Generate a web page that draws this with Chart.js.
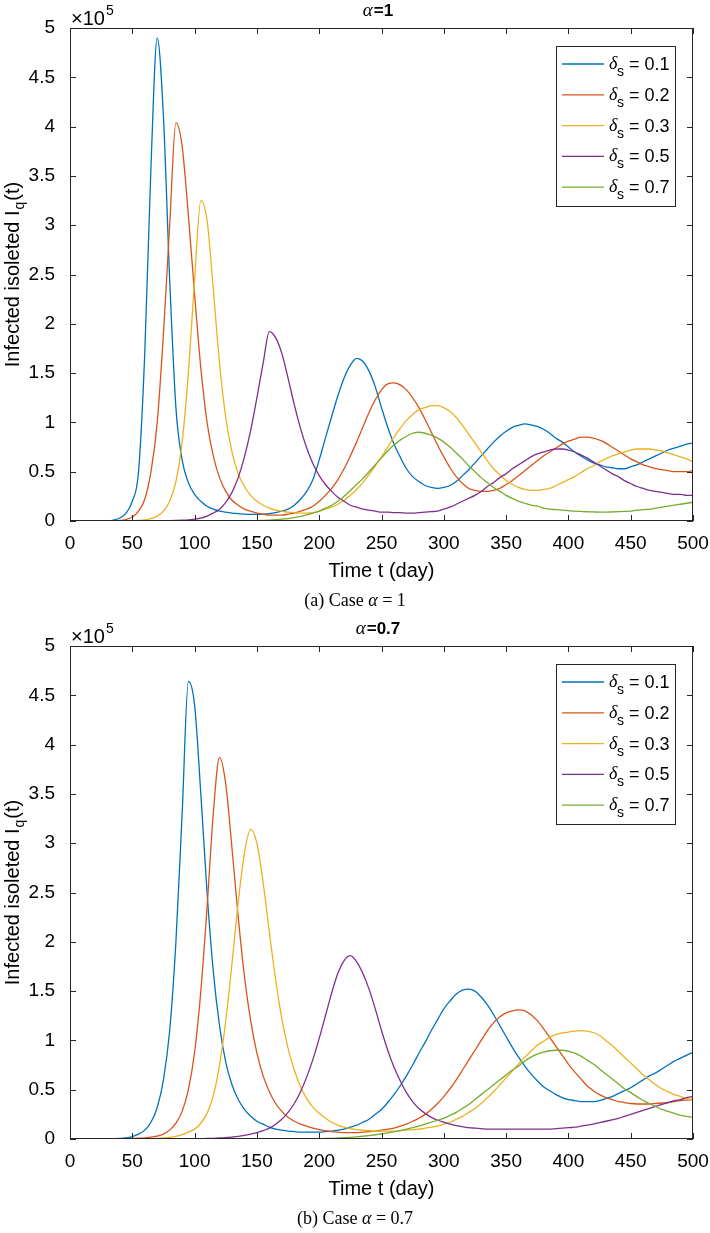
<!DOCTYPE html>
<html>
<head>
<meta charset="utf-8">
<title>Infected isoleted I_q(t)</title>
<script src="https://cdn.jsdelivr.net/npm/chart.js"></script>
<style>
  body { margin: 0; background: #fff; }
  .panel { position: absolute; left: 0; }
</style>
</head>
<body>
<canvas id="chartA" class="panel" width="710" height="618" style="top:0"></canvas>
<canvas id="chartB" class="panel" width="710" height="615" style="top:618px"></canvas>
<script>
// Giorni (passo 5) e valori in unità di 1e5
const days = Array.from({ length: 101 }, (_, i) => i * 5);
const deltaLabels = ['0.1', '0.2', '0.3', '0.5', '0.7'];
const lineColors = ['#0072BD', '#D95319', '#EDB120', '#7E2F8E', '#77AC30'];

// Caso alpha = 1
const blueA = [
  0, 0, 0, 0, 0, 0, 0.002, 0.01, 0.03, 0.08,
  0.2, 0.5, 1.7, 3.6, 4.9, 4.1, 2.45, 1.15, 0.62, 0.39,
  0.27, 0.2, 0.15, 0.12, 0.1, 0.09, 0.08, 0.075, 0.07, 0.068,
  0.068, 0.07, 0.075, 0.085, 0.1, 0.12, 0.16, 0.22, 0.3, 0.42,
  0.62, 0.84, 1.06, 1.27, 1.45, 1.58, 1.65, 1.62, 1.52, 1.36,
  1.15, 0.95, 0.78, 0.65, 0.53, 0.45, 0.4, 0.36, 0.34, 0.33,
  0.34, 0.36, 0.4, 0.46, 0.52, 0.59, 0.66, 0.73, 0.8, 0.86,
  0.91, 0.95, 0.97, 0.985, 0.975, 0.96, 0.93, 0.89, 0.84, 0.8,
  0.75, 0.7, 0.66, 0.62, 0.59, 0.57, 0.55, 0.54, 0.53, 0.53,
  0.55, 0.57, 0.6, 0.63, 0.66, 0.69, 0.72, 0.74, 0.76, 0.78,
  0.79
];
const redA = [
  0, 0, 0, 0, 0, 0, 0, 0.002, 0.005, 0.015,
  0.04, 0.1, 0.22, 0.5, 1.0, 1.9, 3.0, 4.04, 3.8, 3.1,
  2.3, 1.55, 1.0, 0.66, 0.44, 0.3, 0.21, 0.16, 0.12, 0.1,
  0.08, 0.07, 0.06, 0.06, 0.06, 0.07, 0.08, 0.1, 0.12, 0.15,
  0.2, 0.26, 0.33, 0.42, 0.53, 0.66, 0.8, 0.95, 1.1, 1.23,
  1.33, 1.39, 1.4, 1.38, 1.33, 1.25, 1.15, 1.03, 0.9, 0.77,
  0.65, 0.54, 0.45, 0.38, 0.33, 0.31, 0.3, 0.3, 0.31, 0.33,
  0.37, 0.41, 0.46, 0.51, 0.56, 0.61, 0.66, 0.7, 0.74, 0.78,
  0.81, 0.83, 0.85, 0.85, 0.84, 0.82, 0.79, 0.75, 0.71, 0.67,
  0.63, 0.6, 0.57, 0.55, 0.53, 0.52, 0.51, 0.5, 0.5, 0.5,
  0.51
];
const yellowA = [
  0, 0, 0, 0, 0, 0, 0, 0, 0, 0.001,
  0.003, 0.006, 0.012, 0.025, 0.05, 0.1, 0.2, 0.4, 0.8, 1.5,
  2.45, 3.25, 3.05, 2.35, 1.6, 1.05, 0.7, 0.48, 0.35, 0.26,
  0.2, 0.16, 0.13, 0.11, 0.1, 0.09, 0.085, 0.08, 0.08, 0.085,
  0.1, 0.12, 0.14, 0.17, 0.21, 0.26, 0.32, 0.39, 0.47, 0.56,
  0.65, 0.75, 0.85, 0.94, 1.02, 1.08, 1.13, 1.15, 1.17, 1.17,
  1.15, 1.11, 1.05, 0.97, 0.88, 0.79, 0.7, 0.61, 0.53, 0.47,
  0.41, 0.37, 0.34, 0.32, 0.31, 0.31, 0.32, 0.33, 0.36, 0.39,
  0.42, 0.45, 0.49, 0.53, 0.56, 0.6, 0.63, 0.66, 0.68, 0.7,
  0.72, 0.73, 0.73, 0.73, 0.72, 0.71, 0.69, 0.67, 0.65, 0.63,
  0.6
];
const purpleA = [
  0, 0, 0, 0, 0, 0, 0, 0, 0, 0,
  0, 0, 0, 0, 0.001, 0.002, 0.003, 0.005, 0.008, 0.012,
  0.02, 0.03, 0.05, 0.08, 0.12, 0.19, 0.29, 0.44, 0.65, 0.92,
  1.25, 1.6, 1.92, 1.86, 1.7, 1.45, 1.18, 0.94, 0.74, 0.58,
  0.46, 0.37, 0.3, 0.24, 0.2, 0.16, 0.14, 0.12, 0.11, 0.1,
  0.09, 0.09, 0.085, 0.085, 0.08, 0.08, 0.085, 0.09, 0.095, 0.1,
  0.12, 0.14, 0.17, 0.2, 0.23, 0.26, 0.3, 0.35, 0.39, 0.44,
  0.48, 0.53, 0.57, 0.61, 0.65, 0.68, 0.7, 0.72, 0.73, 0.73,
  0.72, 0.7, 0.67, 0.64, 0.6, 0.56, 0.52, 0.48, 0.45, 0.41,
  0.38, 0.35, 0.33, 0.31, 0.3, 0.29, 0.28, 0.27, 0.27, 0.26,
  0.26
];
const greenA = [
  0, 0, 0, 0, 0, 0, 0, 0, 0, 0,
  0, 0, 0, 0, 0, 0, 0, 0, 0, 0,
  0, 0, 0, 0.001, 0.001, 0.001, 0.002, 0.002, 0.003, 0.003,
  0.004, 0.006, 0.009, 0.013, 0.018, 0.025, 0.035, 0.047, 0.062, 0.08,
  0.1, 0.13, 0.16, 0.2, 0.25, 0.31, 0.37, 0.43, 0.5, 0.57,
  0.64, 0.71, 0.77, 0.82, 0.86, 0.89, 0.9, 0.89, 0.87, 0.84,
  0.8, 0.75, 0.69, 0.63, 0.56, 0.5, 0.44, 0.39, 0.34, 0.3,
  0.26, 0.23, 0.2, 0.18, 0.16, 0.15, 0.13, 0.12, 0.115, 0.11,
  0.105, 0.1, 0.097, 0.094, 0.092, 0.09, 0.09, 0.092, 0.095, 0.098,
  0.1, 0.11, 0.115, 0.12, 0.13, 0.14, 0.15, 0.16, 0.17, 0.18,
  0.19
];

// Caso alpha = 0.7
const blueB = [
  0, 0, 0, 0, 0, 0, 0.001, 0.003, 0.006, 0.012,
  0.025, 0.05, 0.09, 0.17, 0.32, 0.6, 1.1, 2.0, 3.3, 4.64,
  4.4, 3.5, 2.5, 1.7, 1.15, 0.78, 0.55, 0.4, 0.3, 0.23,
  0.18, 0.15, 0.12, 0.1, 0.09, 0.08, 0.075, 0.07, 0.07, 0.07,
  0.07, 0.075, 0.08, 0.09, 0.1, 0.12, 0.14, 0.17, 0.2, 0.25,
  0.3, 0.37, 0.45, 0.54, 0.64, 0.75, 0.87, 0.98, 1.1, 1.21,
  1.32, 1.4, 1.47, 1.51, 1.52, 1.5, 1.44, 1.36, 1.26, 1.15,
  1.04, 0.93, 0.83, 0.74, 0.66, 0.59, 0.53, 0.49, 0.45, 0.42,
  0.4, 0.39, 0.38, 0.38, 0.38, 0.39, 0.41, 0.43, 0.46, 0.49,
  0.52, 0.56, 0.6, 0.64, 0.67, 0.71, 0.75, 0.79, 0.82, 0.85,
  0.88
];
const redB = [
  0, 0, 0, 0, 0, 0, 0, 0, 0, 0,
  0.005, 0.008, 0.012, 0.02, 0.03, 0.05, 0.09, 0.16, 0.28, 0.5,
  0.88, 1.5, 2.35, 3.3, 3.87, 3.6, 2.95, 2.25, 1.65, 1.2,
  0.87, 0.64, 0.48, 0.36, 0.28, 0.22, 0.18, 0.15, 0.13, 0.11,
  0.095, 0.085, 0.075, 0.07, 0.065, 0.065, 0.065, 0.07, 0.075, 0.08,
  0.09, 0.1, 0.11, 0.13, 0.15, 0.18, 0.21, 0.25, 0.3, 0.36,
  0.43, 0.51, 0.6, 0.7, 0.8, 0.9, 1.0, 1.1, 1.18, 1.24,
  1.28, 1.3, 1.31, 1.3, 1.26, 1.2, 1.12, 1.03, 0.94, 0.85,
  0.76, 0.68, 0.61, 0.54, 0.49, 0.45, 0.42, 0.4, 0.38, 0.37,
  0.36, 0.355, 0.355, 0.355, 0.36, 0.365, 0.37, 0.38, 0.39, 0.395,
  0.4
];
const yellowB = [
  0, 0, 0, 0, 0, 0, 0, 0, 0, 0,
  0, 0.001, 0.002, 0.004, 0.006, 0.01, 0.016, 0.027, 0.045, 0.07,
  0.1, 0.16, 0.26, 0.44, 0.75, 1.2, 1.78, 2.4, 2.9, 3.14,
  3.0, 2.6, 2.1, 1.62, 1.22, 0.92, 0.7, 0.53, 0.41, 0.32,
  0.26, 0.21, 0.17, 0.14, 0.12, 0.105, 0.095, 0.09, 0.085, 0.08,
  0.08, 0.08, 0.08, 0.085, 0.09, 0.095, 0.1, 0.11, 0.12, 0.13,
  0.15, 0.17, 0.2, 0.23, 0.27, 0.31, 0.36, 0.42, 0.48, 0.55,
  0.62, 0.69, 0.76, 0.83, 0.89, 0.95, 0.99, 1.03, 1.06, 1.075,
  1.085, 1.095, 1.1, 1.095, 1.08, 1.05, 1.0, 0.95, 0.89, 0.83,
  0.77, 0.71, 0.65, 0.6, 0.55, 0.51, 0.48, 0.45, 0.43, 0.41,
  0.4
];
const purpleB = [
  0, 0, 0, 0, 0, 0, 0, 0, 0, 0,
  0, 0, 0, 0, 0, 0, 0, 0, 0, 0,
  0.002, 0.003, 0.005, 0.007, 0.01, 0.014, 0.02, 0.027, 0.037, 0.05,
  0.065, 0.085, 0.11, 0.15, 0.2, 0.27, 0.36, 0.48, 0.63, 0.81,
  1.02, 1.25, 1.48, 1.68, 1.81, 1.86, 1.8, 1.68, 1.52, 1.32,
  1.1, 0.9, 0.73, 0.59, 0.47, 0.38, 0.31, 0.26, 0.22, 0.19,
  0.17, 0.15, 0.135, 0.125, 0.115, 0.11, 0.105, 0.1, 0.1, 0.1,
  0.1, 0.1, 0.1, 0.1, 0.1, 0.1, 0.1, 0.1, 0.105, 0.11,
  0.115, 0.12, 0.13, 0.14, 0.15, 0.165, 0.18, 0.195, 0.21, 0.23,
  0.25, 0.27, 0.29, 0.31, 0.33, 0.35, 0.37, 0.39, 0.4, 0.42,
  0.43
];
const greenB = [
  0, 0, 0, 0, 0, 0, 0, 0, 0, 0,
  0, 0, 0, 0, 0, 0, 0, 0, 0, 0,
  0, 0, 0, 0, 0, 0, 0, 0, 0, 0,
  0, 0, 0, 0, 0, 0, 0, 0, 0, 0,
  0.003, 0.005, 0.007, 0.01, 0.013, 0.017, 0.022, 0.028, 0.035, 0.043,
  0.052, 0.062, 0.073, 0.085, 0.1, 0.115, 0.13, 0.15, 0.17, 0.19,
  0.21, 0.24, 0.27, 0.31, 0.35, 0.4, 0.45, 0.5, 0.55, 0.6,
  0.65, 0.7, 0.74, 0.79, 0.83, 0.86, 0.88, 0.895, 0.9, 0.9,
  0.89, 0.87, 0.84, 0.8, 0.76, 0.71, 0.66, 0.61, 0.56, 0.51,
  0.47, 0.43, 0.39, 0.36, 0.33, 0.3, 0.28, 0.26, 0.24, 0.23,
  0.22
];

const xTicksMax = 500;
const yTicksMax = 5;

const SANS = "'Liberation Sans', Arial, sans-serif";
const SERIF = "'Liberation Serif', 'Times New Roman', serif";
const AXIS = '#262626';

// Disegna le parti "stile MATLAB": riquadro, tacche interne, legenda, titoli
function matlabFrame(titleValue, captionLetter) {
  return {
    id: 'matlabFrame',
    afterDraw(chart) {
      const ctx = chart.ctx;
      const a = chart.chartArea;
      const xs = chart.scales.x, ys = chart.scales.y;
      ctx.save();

      // riquadro e tacche
      ctx.strokeStyle = AXIS;
      ctx.lineWidth = 1;
      ctx.strokeRect(Math.round(a.left) + 0.5, Math.round(a.top) + 0.5,
                     Math.round(a.right - a.left) - 1, Math.round(a.bottom - a.top) - 1);
      ctx.beginPath();
      xs.ticks.forEach(t => {
        const px = Math.round(xs.getPixelForValue(t.value)) + 0.5;
        ctx.moveTo(px, a.bottom); ctx.lineTo(px, a.bottom - 6);
        ctx.moveTo(px, a.top); ctx.lineTo(px, a.top + 6);
      });
      ys.ticks.forEach(t => {
        const py = Math.round(ys.getPixelForValue(t.value)) + 0.5;
        ctx.moveTo(a.left, py); ctx.lineTo(a.left + 6, py);
        ctx.moveTo(a.right, py); ctx.lineTo(a.right - 6, py);
      });
      ctx.stroke();

      ctx.fillStyle = '#000';
      ctx.textBaseline = 'alphabetic';

      // moltiplicatore x10^5
      ctx.textAlign = 'left';
      ctx.font = '20px ' + SANS;
      ctx.fillText('\u00d710', a.left + 1, a.top - 3);
      const w10 = ctx.measureText('\u00d710').width;
      ctx.font = '14px ' + SANS;
      ctx.fillText('5', a.left + 1 + w10 + 1, a.top - 13);

      // titolo: alpha = valore
      ctx.font = 'italic 19px ' + SERIF;
      const wa = ctx.measureText('\u03b1').width;
      ctx.font = 'bold 17px ' + SANS;
      const wv = ctx.measureText('=' + titleValue).width;
      const tx = (a.left + a.right) / 2 - 4 - (wa + wv) / 2;
      ctx.font = 'italic 19px ' + SERIF;
      ctx.fillText('\u03b1', tx, a.top - 12);
      ctx.font = 'bold 17px ' + SANS;
      ctx.fillText('=' + titleValue, tx + wa + 1, a.top - 12);

      // titolo asse x
      ctx.textAlign = 'center';
      ctx.font = '20px ' + SANS;
      ctx.fillText('Time t (day)', (a.left + a.right) / 2, a.bottom + 56);

      // titolo asse y (ruotato)
      ctx.save();
      ctx.translate(19, (a.top + a.bottom) / 2);
      ctx.rotate(-Math.PI / 2);
      ctx.textAlign = 'left';
      ctx.font = '20px ' + SANS;
      const p1 = 'Infected isoleted I', p3 = '(t)';
      const w1 = ctx.measureText(p1).width, w3 = ctx.measureText(p3).width;
      ctx.font = '14px ' + SANS;
      const w2 = ctx.measureText('q').width;
      let x0 = -(w1 + w2 + w3 + 2) / 2;
      ctx.font = '20px ' + SANS;
      ctx.fillText(p1, x0, 0);
      ctx.font = '14px ' + SANS;
      ctx.fillText('q', x0 + w1 + 1, 5);
      ctx.font = '20px ' + SANS;
      ctx.fillText(p3, x0 + w1 + w2 + 2, 0);
      ctx.restore();

      // legenda
      const lx = 556, ly = 46, lw = 119, lh = 160;
      ctx.fillStyle = '#fff';
      ctx.fillRect(lx, ly, lw, lh);
      ctx.strokeStyle = AXIS;
      ctx.strokeRect(lx + 0.5, ly + 0.5, lw, lh);
      deltaLabels.forEach((lab, i) => {
        const cy = ly + 18 + i * 30.8;
        ctx.strokeStyle = lineColors[i];
        ctx.lineWidth = 1.3;
        ctx.beginPath();
        ctx.moveTo(lx + 6, cy); ctx.lineTo(lx + 48, cy);
        ctx.stroke();
        ctx.fillStyle = '#000';
        ctx.textAlign = 'left';
        ctx.font = 'italic 18px ' + SERIF;
        ctx.fillText('\u03b4', lx + 53, cy + 5);
        ctx.font = '14px ' + SANS;
        ctx.fillText('s', lx + 61, cy + 12);
        ctx.font = '18px ' + SANS;
        ctx.fillText('= ' + lab, lx + 73, cy + 6);
      });

      // didascalia
      const cap1 = '(' + captionLetter + ') Case ', cap3 = ' = ' + titleValue;
      ctx.font = '18px ' + SERIF;
      const c1 = ctx.measureText(cap1).width, c3 = ctx.measureText(cap3).width;
      ctx.font = 'italic 18px ' + SERIF;
      const c2 = ctx.measureText('\u03b1').width;
      let cx = 355 - (c1 + c2 + c3) / 2;
      const cyCap = a.bottom + 85;
      ctx.fillStyle = '#000';
      ctx.font = '18px ' + SERIF;
      ctx.fillText(cap1, cx, cyCap);
      ctx.font = 'italic 18px ' + SERIF;
      ctx.fillText('\u03b1', cx + c1, cyCap);
      ctx.font = '18px ' + SERIF;
      ctx.fillText(cap3, cx + c1 + c2, cyCap);

      ctx.restore();
    }
  };
}

function makeChart(id, series, titleValue, captionLetter, canvasH) {
  const ctx = document.getElementById(id).getContext('2d');
  return new Chart(ctx, {
    type: 'line',
    data: {
      datasets: series.map((vals, i) => ({
        label: '\u03b4s = ' + deltaLabels[i],
        data: days.map((d, k) => ({ x: d, y: vals[k] })),
        borderColor: lineColors[i],
        borderWidth: 1.3,
        pointRadius: 0,
        fill: false,
        cubicInterpolationMode: 'monotone',
        order: series.length - 1 - i
      }))
    },
    options: {
      responsive: false,
      animation: false,
      layout: { padding: { left: 0, right: 17, top: 28, bottom: 0 } },
      plugins: { legend: { display: false }, title: { display: false }, tooltip: { enabled: false } },
      scales: {
        x: {
          type: 'linear',
          min: 0,
          max: xTicksMax,
          grid: { display: false },
          border: { display: false },
          ticks: { stepSize: 50, padding: 3, color: '#000', font: { family: SANS, size: 19 }, maxRotation: 0 },
          afterFit: s => { s.height = canvasH - 521; s.paddingLeft = 0; s.paddingRight = 0; }
        },
        y: {
          min: 0,
          max: yTicksMax,
          grid: { display: false },
          border: { display: false },
          ticks: {
            stepSize: 0.5, padding: 7, color: '#000', font: { family: SANS, size: 19 },
            callback: v => String(+v.toFixed(1))
          },
          afterFit: s => { s.width = 70; s.paddingTop = 0; s.paddingBottom = 0; }
        }
      }
    },
    plugins: [matlabFrame(titleValue, captionLetter)]
  });
}

makeChart('chartA', [blueA, redA, yellowA, purpleA, greenA], '1', 'a', 618);
makeChart('chartB', [blueB, redB, yellowB, purpleB, greenB], '0.7', 'b', 615);
</script>
</body>
</html>
